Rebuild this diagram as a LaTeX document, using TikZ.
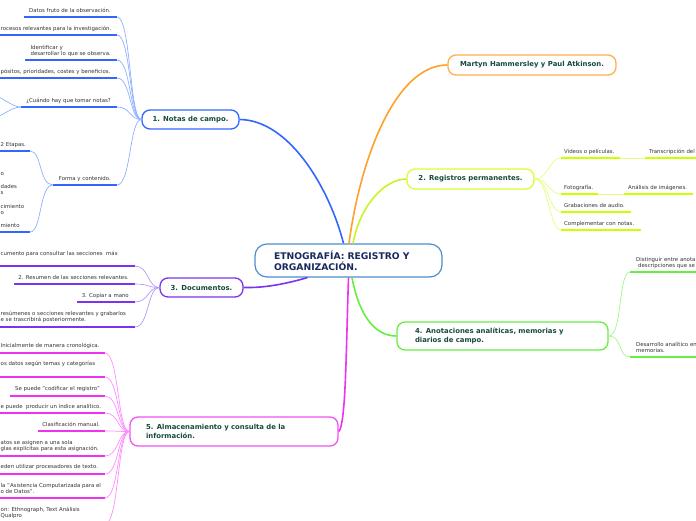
\documentclass[tikz,border=0pt]{standalone}
\usepackage{fontspec}
\setmainfont{DejaVu Sans}
\definecolor{txtgray}{HTML}{333333}
\definecolor{topictxt}{HTML}{164A3C}
\definecolor{centertxt}{HTML}{1A2A5C}
\definecolor{cblue}{HTML}{3366FF}
\definecolor{cbluel}{HTML}{8FB0FF}
\definecolor{corange}{HTML}{FFA02A}
\definecolor{cyg}{HTML}{CCFF00}
\definecolor{cygm}{HTML}{C8F520}
\definecolor{cygl}{HTML}{E2FF80}
\definecolor{cpurple}{HTML}{7A33EE}
\definecolor{cpurplel}{HTML}{B598FF}
\definecolor{cgreen}{HTML}{66EE44}
\definecolor{cgreenl}{HTML}{A6F58A}
\definecolor{cmag}{HTML}{EE33EE}
\definecolor{cmagl}{HTML}{FF8CFF}
\definecolor{ccenter}{HTML}{4A8FCC}
\begin{document}
\begin{tikzpicture}[x=1pt,y=-1pt,
  sm/.style={font=\fontsize{5.4}{6.3}\selectfont, text=txtgray, inner sep=0pt, align=left, execute at end node=\strut},
  topic/.style={draw, line width=1.3pt, rounded corners=8pt, fill=white, font=\fontsize{6.9}{8.3}\selectfont\bfseries, text=topictxt, inner sep=0pt},
  ul/.style={line width=1.8pt},
  sub/.style={line width=0.7pt},
  mainln/.style={line width=1.6pt},
]
\useasboundingbox (0,0) rectangle (696,520);
\clip (0,0) rectangle (696,520);

% ---------- main nodes ----------
\node[draw=ccenter, line width=1.2pt, rounded corners=12pt, fill=white, text=centertxt,
  font=\fontsize{9.2}{11}\selectfont\bfseries, align=left, text width=149pt, inner xsep=19pt, inner ysep=0pt,
  minimum height=33pt] (c) at (348.5,260.5) {ETNOGRAFÍA: REGISTRO Y\\ORGANIZACIÓN.};
\node[topic, draw=cblue, minimum width=97pt, minimum height=19pt] (n1) at (190.5,119.5) {1. Notas de campo.};
\node[topic, draw=corange!85, minimum width=168pt, minimum height=20pt] (mh) at (532,65) {Martyn Hammersley y Paul Atkinson.};
\node[topic, draw=cyg!80!white, minimum width=127pt, minimum height=20pt] (n2) at (470.5,179) {2. Registros permanentes.};
\node[topic, draw=cpurple, minimum width=83pt, minimum height=19pt] (n3) at (201.5,287.5) {3. Documentos.};
\node[topic, draw=cgreen, align=left, text width=175pt, inner xsep=18pt, minimum height=28pt] (n4) at (502.5,336) {4. Anotaciones analíticas, memorias y\\diarios de campo.};
\node[topic, draw=cmag!85, align=left, text width=176pt, inner xsep=16pt, minimum height=29pt] (n5) at (234,431.5) {5. Almacenamiento y consulta de la\\información.};

% ---------- main connectors ----------
\draw[mainln, cblue] (n1.east) .. controls (290,120) and (330,190) .. ([xshift=-5pt]c.north);
\draw[mainln, corange] (mh.west) .. controls (395,65) and (360,160) .. ([xshift=0.5pt]c.north);
\draw[mainln, cygm] (n2.west) .. controls (385,179) and (360,205) .. ([xshift=4.5pt]c.north);
\draw[mainln, cpurple] ([xshift=-41pt]c.south) .. controls (285,284) and (265,288) .. (n3.east);
\draw[mainln, cmag] (c.south) .. controls (346,350) and (346,425) .. (n5.east);
\draw[mainln, cgreen] ([xshift=3.5pt]c.south) .. controls (358,310) and (372,336) .. (n4.west);

% ---------- 1. Notas de campo ----------
\node[sm, anchor=south east] (b1) at (111,14.4) {Datos fruto de la observación.};
\coordinate (b1a) at (24,17); \coordinate (b1b) at (117,17);
\node[sm, anchor=south west] (b2) at (0.5,32.4) {rocesos relevantes para la investigación.};
\coordinate (b2a) at (-5,35); \coordinate (b2b) at (117,35);
\node[sm, anchor=south east] (b3) at (111,57.4) {Identificar y\\desarrollar lo que se observa.};
\coordinate (b3a) at (25,60); \coordinate (b3b) at (117,60);
\node[sm, anchor=south west] (b4) at (0.5,75.4) {pósitos, prioridades, costes y beneficios.};
\coordinate (b4a) at (-5,78); \coordinate (b4b) at (117,78);
\node[sm, anchor=south east] (b5) at (111,104.4) {¿Cuándo hay que tomar notas?};
\coordinate (b5a) at (21,107); \coordinate (b5b) at (117,107);
\node[sm, anchor=south east] (b6) at (111,182.4) {Forma y contenido.};
\coordinate (b6a) at (53,185); \coordinate (b6b) at (117,185);
\foreach \k in {b1,b2,b3,b4,b5,b6}{
  \draw[ul, cblue] (\k a) -- (\k b);
  \draw[sub, cbluel] (\k b) .. controls +(14,0) and +(-12,0) .. (n1.west);
}
% children of "¿Cuándo...?"
\coordinate (b5c1) at (-6,96); \coordinate (b5c2) at (-6,117);
\draw[sub, cbluel] (b5a) .. controls +(-10,0) and +(8,0) .. (b5c1);
\draw[sub, cbluel] (b5a) .. controls +(-10,0) and +(8,0) .. (b5c2);
% children of "Forma y contenido."
\node[sm, anchor=south west] (f1) at (0.5,148.4) {2 Etapas.};
\coordinate (f1a) at (-5,151); \coordinate (f1b) at (30,151);
\node[sm, anchor=south west] (f2) at (0.5,229.4) {miento};
\coordinate (f2a) at (-5,232); \coordinate (f2b) at (30,232);
\draw[ul, cblue] (f1a) -- (f1b);
\draw[ul, cblue] (f2a) -- (f2b);
\draw[sub, cbluel] (b6a) .. controls +(-14,0) and +(12,0) .. (f1b);
\draw[sub, cbluel] (b6a) .. controls +(-14,0) and +(12,0) .. (f2b);
\node[sm, anchor=south west] (f3) at (0.5,177.4) {o};
\node[sm, anchor=south west] (f4) at (0.5,196.4) {dades\\s};
\node[sm, anchor=south west] (f5) at (0.5,216.4) {cimiento\\o};

% ---------- 3. Documentos ----------
\node[sm, anchor=south west] (p1) at (0.5,257.4) {cumento para consultar las secciones\ \ más};
\coordinate (p1a) at (-5,266); \coordinate (p1b) at (135,266);
\node[sm, anchor=south east] (p2) at (129,281.4) {2. Resumen de las secciones relevantes.};
\coordinate (p2a) at (14,284); \coordinate (p2b) at (135,284);
\node[sm, anchor=south east] (p3) at (129,299.4) {3. Copiar a mano};
\coordinate (p3a) at (77,302); \coordinate (p3b) at (135,302);
\node[sm, anchor=south west] (p4) at (0.5,323.4) {resúmenes o secciones relevantes y grabarlos\\e se trascribirá posteriormente.};
\coordinate (p4a) at (-5,327); \coordinate (p4b) at (135,327);
\foreach \k in {p1,p2,p3,p4}{
  \draw[ul, cpurple] (\k a) -- (\k b);
  \draw[sub, cpurplel] (\k b) .. controls +(14,0) and +(-12,0) .. (n3.west);
}

% ---------- 5. Almacenamiento ----------
\node[sm, anchor=south west] (m1) at (0.5,349.4) {Inicialmente de manera cronológica.};
\coordinate (m1a) at (-5,353); \coordinate (m1b) at (105,353);
\node[sm, anchor=south west] (m2) at (0.5,367.4) {os datos según temas y categorías};
\coordinate (m2a) at (-5,377); \coordinate (m2b) at (105,377);
\node[sm, anchor=south east] (m3) at (100,392.4) {Se puede "codificar el registro"};
\coordinate (m3a) at (10,396); \coordinate (m3b) at (105,396);
\node[sm, anchor=south west] (m4) at (0.5,410.4) {e puede\ \ producir un índice analítico.};
\coordinate (m4a) at (-5,413); \coordinate (m4b) at (105,413);
\node[sm, anchor=south east] (m5) at (100,428.4) {Clasificación manual.};
\coordinate (m5a) at (38,431); \coordinate (m5b) at (105,431);
\node[sm, anchor=south west] (m6) at (0.5,452.4) {atos se asignen a una sola\\glas explícitas para esta asignación.};
\coordinate (m6a) at (-5,456); \coordinate (m6b) at (105,456);
\node[sm, anchor=south west] (m7) at (0.5,470.4) {eden utilizar procesadores de texto.};
\coordinate (m7a) at (-5,474); \coordinate (m7b) at (105,474);
\node[sm, anchor=south west] (m8) at (0.5,495.4) {la "Asistencia Computarizada para el\\o de Datos".};
\coordinate (m8a) at (-5,498); \coordinate (m8b) at (105,498);
\node[sm, anchor=south west] (m9) at (0.5,519.4) {on: Ethnograph, Text Análisis\\Qualpro};
\coordinate (m9a) at (-5,524); \coordinate (m9b) at (105,524);
\foreach \k in {m1,m2,m3,m4,m5,m6,m7,m8,m9}{
  \draw[ul, cmag] (\k a) -- (\k b);
  \draw[sub, cmagl] (\k b) .. controls +(14,0) and +(-12,0) .. (n5.west);
}

% ---------- 2. Registros permanentes ----------
\node[sm, anchor=south west] (y1) at (564,155.4) {Videos o películas.};
\coordinate (y1a) at (561,158); \coordinate (y1b) at (620,158);
\node[sm, anchor=south west] (y2) at (564,191.4) {Fotografía.};
\coordinate (y2a) at (561,194); \coordinate (y2b) at (598,194);
\node[sm, anchor=south west] (y3) at (564,209.4) {Grabaciones de audio.};
\coordinate (y3a) at (561,212); \coordinate (y3b) at (631,212);
\node[sm, anchor=south west] (y4) at (564,227.4) {Complementar con notas.};
\coordinate (y4a) at (561,230); \coordinate (y4b) at (641,230);
\foreach \k in {y1,y2,y3,y4}{
  \draw[ul, cyg] (\k a) -- (\k b);
  \draw[sub, cygl] (n2.east) .. controls +(14,0) and +(-12,0) .. (\k a);
}
\node[sm, anchor=south west] (y1c) at (649,155.4) {Transcripción del};
\coordinate (y1ca) at (645,158); \coordinate (y1cb) at (702,158);
\node[sm, anchor=south west] (y2c) at (628,191.4) {Análisis de imágenes.};
\coordinate (y2ca) at (624,194); \coordinate (y2cb) at (693,194);
\draw[ul, cyg] (y1ca) -- (y1cb);
\draw[ul, cyg] (y2ca) -- (y2cb);
\draw[sub, cygl] (y1b) -- (y1ca);
\draw[sub, cygl] (y2b) -- (y2ca);

% ---------- 4. Anotaciones ----------
\node[sm, anchor=south west] (g1) at (636,269.4) {Distinguir entre anota\\\hspace*{2pt}descripciones que se};
\coordinate (g1a) at (630,272); \coordinate (g1b) at (702,272);
\node[sm, anchor=south west] (g2) at (636,354.4) {Desarrollo analítico en\\memorias.};
\coordinate (g2a) at (630,357); \coordinate (g2b) at (702,357);
\foreach \k in {g1,g2}{
  \draw[ul, cgreen] (\k a) -- (\k b);
  \draw[sub, cgreenl] (n4.east) .. controls +(14,0) and +(-12,0) .. (\k a);
}
\end{tikzpicture}
\end{document}
